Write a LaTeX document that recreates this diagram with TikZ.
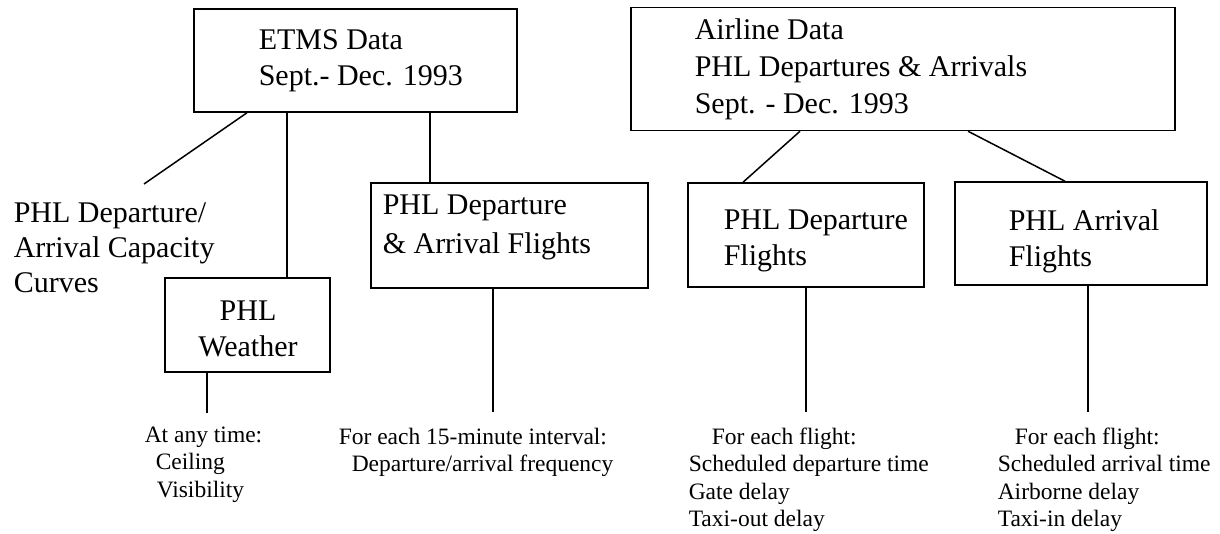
\documentclass[tikz,border=0pt]{standalone}
\usepackage{fontspec}
\setmainfont{Liberation Serif}
\usepackage{tikz}

\begin{document}
\begin{tikzpicture}[x=1pt, y=-1pt, line width=1.5pt,
  box/.style={draw, inner sep=0pt},
  boxtext/.style={anchor=north west, inner sep=0pt, align=left,
    font=\fontsize{30}{36}\selectfont},
  notetext/.style={anchor=north west, inner sep=0pt, align=left,
    font=\fontsize{23.5}{27.5}\selectfont}]
  \useasboundingbox (0,0) rectangle (1220,534);
  % ETMS data box
  \node[box, minimum width=323pt, minimum height=103pt] (etms) at (355.5,60.5) {};
  \node[boxtext] (etmstext) at (258,29) {ETMS Data\\Sept.- Dec. 1993};
  % Airline data box
  \node[box, minimum width=544pt, minimum height=123pt] (airline) at (903,69) {};
  \node[boxtext, font=\fontsize{30}{37}\selectfont] (airlinetext) at (694,18)
    {Airline Data\\PHL Departures \& Arrivals\\Sept. - Dec. 1993};
  % capacity curves, no box
  \node[boxtext, font=\fontsize{30}{35}\selectfont] (capcurve) at (13,202)
    {PHL Departure/\\Arrival Capacity\\Curves};
  % weather box
  \node[box, minimum width=165pt, minimum height=94pt] (weather) at (247.5,325) {};
  \node[boxtext, anchor=north, align=center] (weathertext) at (248,300) {PHL\\Weather};
  % departure & arrival flights box
  \node[box, minimum width=277pt, minimum height=105pt] (flights) at (509.5,235.5) {};
  \node[boxtext, font=\fontsize{30}{39}\selectfont] (flightstext) at (382,194)
    {PHL Departure\\\& Arrival Flights};
  % departure flights box
  \node[box, minimum width=236pt, minimum height=104pt] (depflights) at (806,235) {};
  \node[boxtext] (depflightstext) at (723,209) {PHL Departure\\Flights};
  % arrival flights box
  \node[box, minimum width=252pt, minimum height=103pt] (arrflights) at (1081,233.5) {};
  \node[boxtext] (arrflightstext) at (1008,209) {PHL Arrival\\Flights};
  % notes under the boxes
  \node[notetext] (weathernote) at (144,426)
    {At any time:\\\hspace*{11pt}Ceiling\\\hspace*{12pt}Visibility};
  \node[notetext] (flightsnote) at (338,427)
    {For each 15-minute interval:\\\hspace*{13pt}Departure/arrival frequency};
  \node[notetext] (depnote) at (688,427)
    {\hspace*{23pt}For each flight:\\Scheduled departure time\\Gate delay\\Taxi-out delay};
  \node[notetext] (arrnote) at (997,427)
    {\hspace*{17pt}For each flight:\\Scheduled arrival time\\Airborne delay\\Taxi-in delay};
  % free ends of the connectors
  \coordinate (capfoot) at (144,184);
  \coordinate (weatherfoot) at (207,413);
  \coordinate (flightsfoot) at (493,412);
  \coordinate (depfoot) at (806,412);
  \coordinate (arrfoot) at (1088,412);
  % connectors
  \draw ([xshift=-108.5pt]etms.south) -- (capfoot);
  \draw ([xshift=-68.5pt]etms.south) -- ([xshift=39.5pt]weather.north);
  \draw ([xshift=74.5pt]etms.south) -- ([xshift=-79.5pt]flights.north);
  \draw ([xshift=-103pt]airline.south) -- ([xshift=-63pt]depflights.north);
  \draw ([xshift=65pt]airline.south) -- ([xshift=-16pt]arrflights.north);
  \draw ([xshift=-40.5pt]weather.south) -- (weatherfoot);
  \draw ([xshift=-16.5pt]flights.south) -- (flightsfoot);
  \draw (depflights.south) -- (depfoot);
  \draw ([xshift=7pt]arrflights.south) -- (arrfoot);
\end{tikzpicture}
\end{document}
